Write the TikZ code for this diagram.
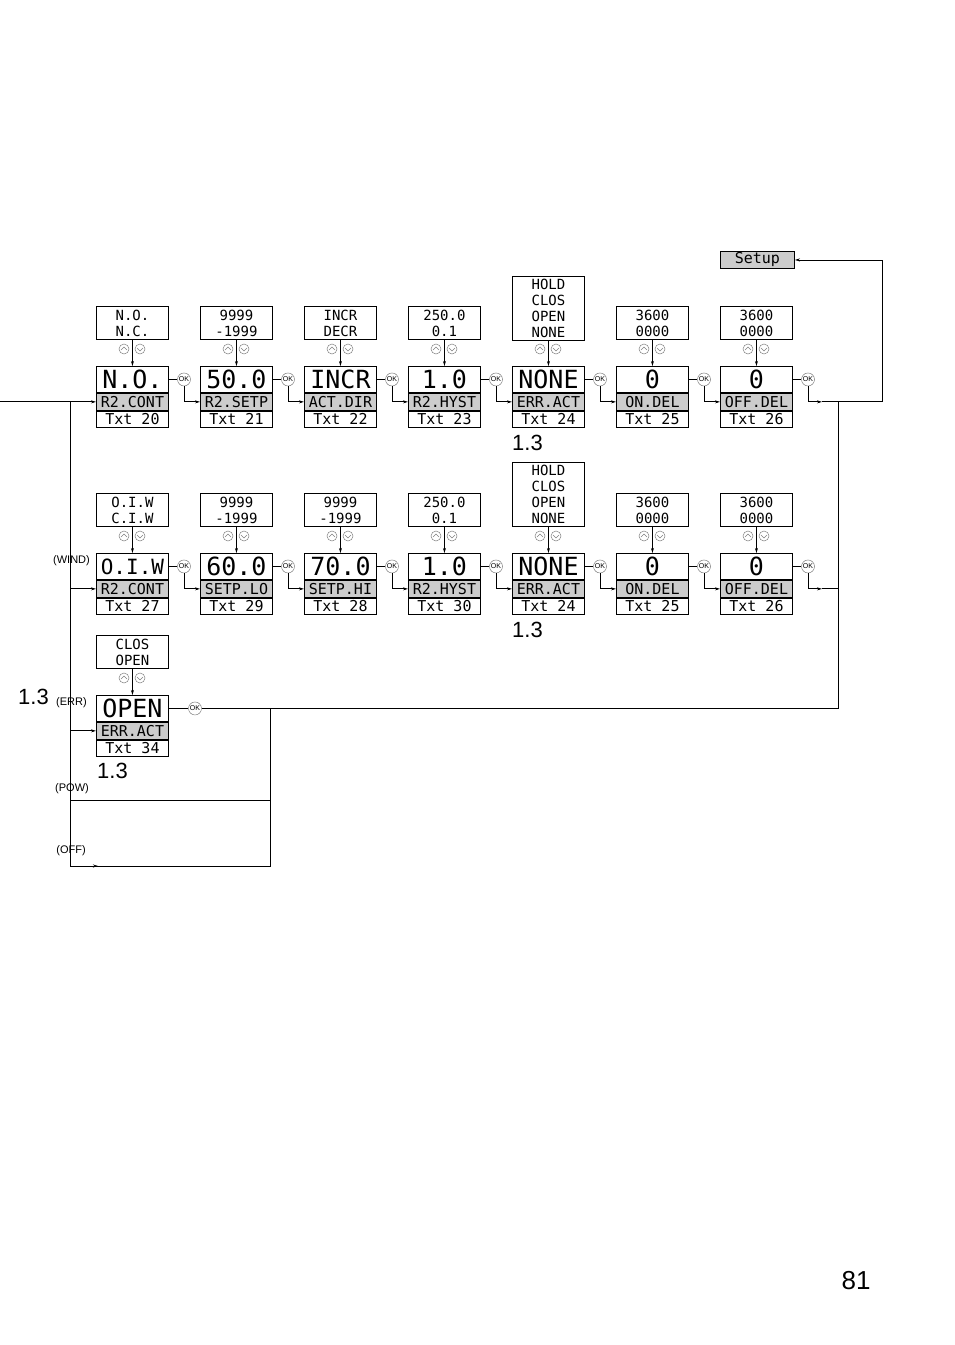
\documentclass[tikz,border=0pt]{standalone}
\usepackage{fontspec}
\setmainfont{Liberation Sans}
\setsansfont{Liberation Sans}
\newfontfamily\lcd{DejaVu Sans Mono}
\usetikzlibrary{arrows.meta}
\definecolor{lgray}{gray}{0.8}
\tikzset{
 x=1pt,y=1pt,
 disp/.style={draw,line width=0.9pt,minimum width=72pt,minimum height=26pt,inner sep=0pt,font=\lcd\fontsize{25}{25}\selectfont},
 labb/.style={draw,line width=0.9pt,fill=lgray,minimum width=72pt,minimum height=17pt,inner sep=0pt,font=\lcd\fontsize{15}{15}\selectfont},
 txtb/.style={draw,line width=0.9pt,minimum width=72pt,minimum height=16pt,inner sep=0pt,font=\lcd\fontsize{15}{15}\selectfont},
 optb/.style={draw,line width=0.9pt,minimum width=72pt,inner sep=1pt,align=center,font=\lcd\fontsize{14}{16}\selectfont},
 okc/.style={circle,draw=gray,line width=0.5pt,inner sep=0pt,minimum size=13pt,font=\sffamily\fontsize{7}{7}\selectfont},
 updn/.style={circle,draw=gray,line width=0.5pt,minimum size=10pt,inner sep=0pt},
 conn/.style={line width=0.8pt},
 arr/.style={line width=0.8pt,-{Stealth[length=5pt,width=3pt]}},
 lbl/.style={font=\sffamily\fontsize{11}{11}\selectfont,inner sep=0pt},
 big/.style={font=\sffamily\fontsize{22}{22}\selectfont,inner sep=0pt}
}
\newcommand\DispBox[6]{%
 \node[disp,anchor=north west] (#1d) at (#2,-#3) {#4};
 \node[labb,anchor=north] (#1l) at (#1d.south) {#5};
 \node[txtb,anchor=north] (#1t) at (#1l.south) {#6};}
\newcommand\UpDn[3]{%
 \node[updn] (#1u) at (#2-8,-#3) {};
 \node[updn] (#1v) at (#2+8,-#3) {};
 \draw[gray,line width=0.5pt] (#2-11,-#3-1) -- (#2-8,-#3+2) -- (#2-5,-#3-1);
 \draw[gray,line width=0.5pt] (#2+5,-#3+1) -- (#2+8,-#3-2) -- (#2+11,-#3+1);}
\begin{document}
\begin{tikzpicture}
\useasboundingbox (0,0) rectangle (954,-1345);
% Setup
\node[labb,minimum width=74pt,anchor=north west,minimum height=17pt] (setup) at (720,-251) {Setup};
% Row 1
\DispBox{a1}{96}{366}{N.O.}{R2.CONT}{Txt 20}
\DispBox{a2}{200}{366}{50.0}{R2.SETP}{Txt 21}
\DispBox{a3}{304}{366}{INCR}{ACT.DIR}{Txt 22}
\DispBox{a4}{408}{366}{1.0}{R2.HYST}{Txt 23}
\DispBox{a5}{512}{366}{NONE}{ERR.ACT}{Txt 24}
\DispBox{a6}{616}{366}{0}{ON.DEL}{Txt 25}
\DispBox{a7}{720}{366}{0}{OFF.DEL}{Txt 26}
\node[optb,anchor=north west,minimum height=33pt] (a1o) at (96,-306) {N.O.\\N.C.};
\node[optb,anchor=north west,minimum height=33pt] (a2o) at (200,-306) {9999\\-1999};
\node[optb,anchor=north west,minimum height=33pt] (a3o) at (304,-306) {INCR\\DECR};
\node[optb,anchor=north west,minimum height=33pt] (a4o) at (408,-306) {250.0\\0.1};
\node[optb,anchor=north west,minimum height=64pt] (a5o) at (512,-276) {HOLD\\CLOS\\OPEN\\NONE};
\node[optb,anchor=north west,minimum height=33pt] (a6o) at (616,-306) {3600\\0000};
\node[optb,anchor=north west,minimum height=33pt] (a7o) at (720,-306) {3600\\0000};
% Row 2
\DispBox{b1}{96}{553}{\fontsize{21}{21}\selectfont O.I.W}{R2.CONT}{Txt 27}
\DispBox{b2}{200}{553}{60.0}{SETP.LO}{Txt 29}
\DispBox{b3}{304}{553}{70.0}{SETP.HI}{Txt 28}
\DispBox{b4}{408}{553}{1.0}{R2.HYST}{Txt 30}
\DispBox{b5}{512}{553}{NONE}{ERR.ACT}{Txt 24}
\DispBox{b6}{616}{553}{0}{ON.DEL}{Txt 25}
\DispBox{b7}{720}{553}{0}{OFF.DEL}{Txt 26}
\node[optb,anchor=north west,minimum height=33pt] (b1o) at (96,-493) {O.I.W\\C.I.W};
\node[optb,anchor=north west,minimum height=33pt] (b2o) at (200,-493) {9999\\-1999};
\node[optb,anchor=north west,minimum height=33pt] (b3o) at (304,-493) {9999\\-1999};
\node[optb,anchor=north west,minimum height=33pt] (b4o) at (408,-493) {250.0\\0.1};
\node[optb,anchor=north west,minimum height=64pt] (b5o) at (512,-462) {HOLD\\CLOS\\OPEN\\NONE};
\node[optb,anchor=north west,minimum height=33pt] (b6o) at (616,-493) {3600\\0000};
\node[optb,anchor=north west,minimum height=33pt] (b7o) at (720,-493) {3600\\0000};
% Row 3
\DispBox{c1}{96}{695}{OPEN}{ERR.ACT}{Txt 34}
\node[optb,anchor=north west,minimum height=33pt] (c1o) at (96,-635) {CLOS\\OPEN};
% option arrows and up/down
\foreach \r/\y in {a/349,b/536} {
 \foreach \i/\x in {1/132,2/236,3/340,4/444,5/548,6/652,7/756} {
  \draw[arr] (\r\i o.south) -- (\r\i d.north);
  \UpDn{\r\i}{\x}{\y}
 }}
\draw[arr] (c1o.south) -- (c1d.north);
\UpDn{c1}{132}{678}
% OK chains
\foreach \r in {a,b} {
 \foreach \i/\j/\x in {1/2/184,2/3/288,3/4/392,4/5/496,5/6/600,6/7/704} {
  \node[okc] (\r\i k) at (\x,0 |- \r\i d.east) {OK};
  \draw[conn] (\r\i d.east) -- (\r\i k);
  \draw[arr] (\r\i k.south) |- (\r\j l.west);
 }
 \node[okc] (\r7k) at (808,0 |- \r7d.east) {OK};
 \draw[conn] (\r7d.east) -- (\r7k);
}
\coordinate (e1) at (822,0 |- a7l.west);
\coordinate (e2) at (822,0 |- b7l.west);
\draw[arr] (a7k.south) |- (e1);
\draw[arr] (b7k.south) |- (e2);
\draw[arr] (e1) -- (882,0 |- e1) |- (setup.east);
\coordinate (j1) at (838,0 |- e1);
\draw[conn] (e2) -- (838,0 |- e2);
\node[okc] (c1k) at (195,0 |- c1d.east) {OK};
\draw[conn] (c1d.east) -- (c1k);
\draw[conn] (c1k) -- (838,0 |- c1k) -- (j1) -- (e1);
% left bus
\coordinate (in) at (0,0 |- a1l.west);
\draw[arr] (in) -- (a1l.west);
\coordinate (bt) at (70,-866);
\draw[conn] (70,0 |- a1l.west) -- (bt);
\draw[arr] (70,0 |- b1l.west) -- (b1l.west);
\draw[arr] (70,0 |- c1l.west) -- (c1l.west);
\coordinate (rv) at (270,0 |- c1k);
\draw[conn] (rv) -- (270,-866) -- (bt);
\draw[arr] (70,-866) -- (98,-866);
\draw[conn] (70,-800) -- (270,-800);
% labels
\node[lbl,anchor=east] at (90,-561) {(WIND)};
\node[lbl,anchor=east] at (87,-703) {(ERR)};
\node[lbl,anchor=east] at (89,-789) {(POW)};
\node[lbl,anchor=east] at (86,-851) {(OFF)};
\node[big,anchor=west] at (18,-697) {1.3};
\node[big,anchor=west] at (512,-443) {1.3};
\node[big,anchor=west] at (512,-630) {1.3};
\node[big,anchor=west] at (97,-771) {1.3};
\node[font=\sffamily\fontsize{26}{26}\selectfont,inner sep=0pt] at (856,-1281) {81};
\end{tikzpicture}
\end{document}
